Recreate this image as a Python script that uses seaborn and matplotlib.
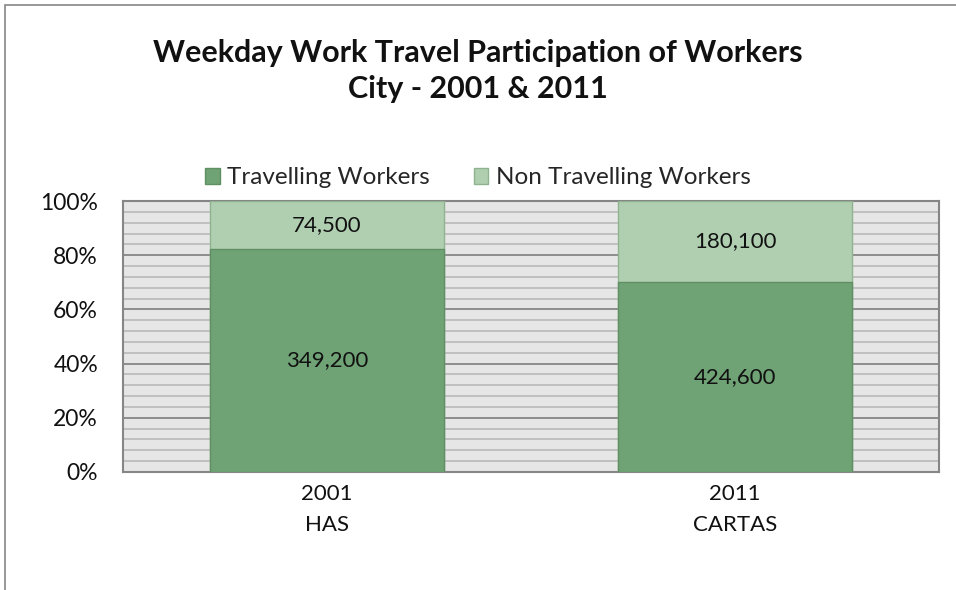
import matplotlib
matplotlib.use("Agg")
import matplotlib.pyplot as plt
import matplotlib.patches as mpatches
from matplotlib.ticker import MultipleLocator, PercentFormatter
import seaborn as sns
import pandas as pd

# Survey data
years = ["2001", "2011"]
surveys = ["HAS", "CARTAS"]
travelling = [349200, 424600]
non_travelling = [74500, 180100]

series_names = ["Travelling Workers", "Non Travelling Workers"]
travel_color = "#6fa275"
non_travel_color = "#b0cfb0"
edge_color = "#5f8f63"

sns.set_theme(style="white")
plt.rcParams["font.family"] = ["Lato", "DejaVu Sans"]

categories = [f"{y}\n{s}" for y, s in zip(years, surveys)]
totals = [t + n for t, n in zip(travelling, non_travelling)]
df = pd.DataFrame({
    "category": categories,
    "travel_pct": [t / tot * 100 for t, tot in zip(travelling, totals)],
    "total_pct": [100.0 for _ in totals],
})

fig = plt.figure(figsize=(9.56, 5.9), dpi=100)
ax = fig.add_axes([123 / 956, 1 - 472 / 590, (939 - 123) / 956, (472 - 201) / 590])

# Full-height bars carry the non-travelling share; travelling share drawn over them
sns.barplot(data=df, x="category", y="total_pct", color=non_travel_color,
            width=0.573, saturation=1, edgecolor="#8fb291", linewidth=1.0, ax=ax, zorder=3)
sns.barplot(data=df, x="category", y="travel_pct", color=travel_color,
            width=0.573, saturation=1, edgecolor=edge_color, linewidth=1.0, ax=ax, zorder=4)

ax.set_xlim(-0.5, 1.5)
ax.set_ylim(0, 100)
ax.set_facecolor("#e6e6e6")
ax.yaxis.set_major_locator(MultipleLocator(20))
ax.yaxis.set_minor_locator(MultipleLocator(4))
ax.yaxis.set_major_formatter(PercentFormatter(decimals=0))
ax.grid(axis="y", which="major", color="#868686", linewidth=1.3, zorder=1)
ax.grid(axis="y", which="minor", color="#bcbcbc", linewidth=1.3, zorder=1)
ax.grid(axis="x", visible=False)
ax.set_axisbelow(True)
for sp in ax.spines.values():
    sp.set_color("#868686")
    sp.set_linewidth(1.5)
ax.set_xlabel("")
ax.set_ylabel("")
ax.tick_params(axis="y", which="both", length=0, labelsize=16.5, pad=18, colors="#111111")
ax.tick_params(axis="x", length=0, labelsize=16, pad=9, colors="#111111")
for lbl in ax.get_xticklabels():
    lbl.set_linespacing(1.65)

# Value labels centred in each segment
for i, (t, n, tot) in enumerate(zip(travelling, non_travelling, totals)):
    tp = t / tot * 100
    ax.text(i, tp / 2, f"{t:,}", ha="center", va="center", fontsize=16, color="#111111", zorder=6)
    ax.text(i, tp + (100 - tp) / 2, f"{n:,}", ha="center", va="center", fontsize=16,
            color="#111111", zorder=6)

fig.text(0.5, 1 - 53 / 590, "Weekday Work Travel Participation of Workers", ha="center",
         va="center", fontsize=22, fontweight="bold", color="#111111")
fig.text(0.5, 1 - 89 / 590, "City - 2001 & 2011", ha="center", va="center",
         fontsize=22, fontweight="bold", color="#111111")

handles = [mpatches.Patch(facecolor=travel_color, edgecolor=edge_color, label=series_names[0]),
           mpatches.Patch(facecolor=non_travel_color, edgecolor="#8fb291", label=series_names[1])]
fig.legend(handles=handles, loc="center", bbox_to_anchor=(0.5, 1 - 178 / 590), ncol=2,
           frameon=False, fontsize=17.5, handlelength=0.6, handleheight=0.6,
           handletextpad=0.3, columnspacing=1.8)

# Chart frame
frame = mpatches.Rectangle((5 / 956, -0.05), 1.2, 1 - 5 / 590 + 0.05, transform=fig.transFigure,
                           fill=False, edgecolor="#868686", linewidth=1.2)
fig.patches.append(frame)

fig.savefig("out.png", dpi=100)
